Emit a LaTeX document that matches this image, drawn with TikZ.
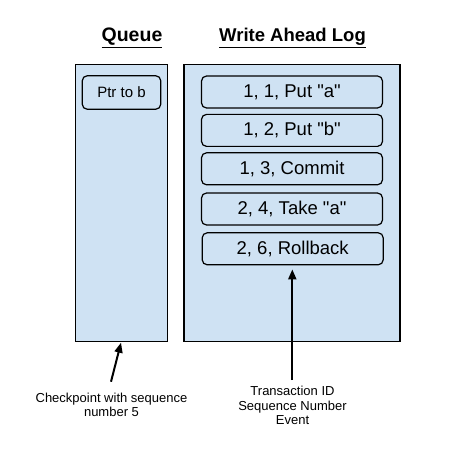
\documentclass[tikz,border=0pt]{standalone}
\usepackage{fontspec}
\setmainfont{Liberation Sans}
\newfontfamily\arial{Liberation Sans}
\usetikzlibrary{arrows.meta}
\definecolor{boxblue}{HTML}{CFE2F3}
\begin{document}
\begin{tikzpicture}[x=1pt,y=-1pt,
  outerbox/.style={draw=black,fill=boxblue,line width=1.4pt,inner sep=0pt,anchor=center},
  entry/.style={draw=black,fill=boxblue,line width=1.2pt,rounded corners=5pt,inner sep=0pt,
    minimum width=181pt,minimum height=32pt,font=\arial\fontsize{18.5}{20}\selectfont,anchor=center},
  title/.style={font=\arial\fontsize{18.5}{20}\selectfont\bfseries,anchor=center},
  lbl/.style={font=\arial\fontsize{13}{14.5}\selectfont,align=center,anchor=center},
  arr/.style={line width=2pt,-{Triangle[length=10pt,width=8pt]}}]
\useasboundingbox (0,0) rectangle (452,457);
\fill[white] (0,0) rectangle (452,457);
\node[title,font=\arial\fontsize{19.5}{20}\selectfont\bfseries] (tq) at (132,38) {\underline{Queue}};
\node[title] (tw) at (292.5,38) {\underline{Write Ahead Log}};
\node[outerbox,minimum width=92pt,minimum height=277pt] (queue) at (121.5,203) {};
\node[outerbox,minimum width=216pt,minimum height=277pt] (wal) at (292,203) {};
\node[entry,minimum width=78.5pt,minimum height=33.5pt,font=\arial\fontsize{15}{16}\selectfont] (ptr) at (121.5,92.5) {Ptr to b};
\node[entry] (e1) at (292,92) {1, 1, Put "a"};
\node[entry] (e2) at (292,130.4) {1, 2, Put "b"};
\node[entry] (e3) at (292,168.8) {1, 3, Commit};
\node[entry] (e4) at (292,209) {2, 4, Take "a"};
\node[entry] (e5) at (292.7,248.8) {2, 6, Rollback};
\node[lbl] (cp) at (111.5,405) {Checkpoint with sequence\\number 5};
\node[lbl] (tx) at (292.5,405.5) {Transaction ID\\Sequence Number\\Event};
\coordinate (c1) at (111,381.7);
\coordinate (c2) at (292.3,380);
\draw[arr] (c1) -- (121,342.7);
\draw[arr,shorten >=4pt] (c2) -- (e5.south -| c2);
\end{tikzpicture}
\end{document}
